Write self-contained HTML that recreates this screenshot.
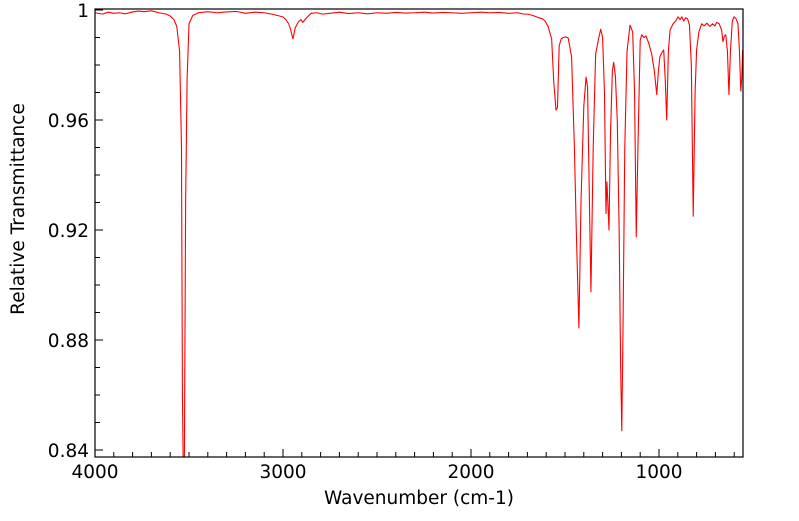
<!DOCTYPE html>
<html><head><meta charset="utf-8"><style>
html,body{margin:0;padding:0;background:#fff;}
svg text{font-family:"DejaVu Sans","Liberation Sans",sans-serif;font-size:18.5px;fill:#000;}
</style></head><body>
<svg id="chart" width="799" height="516" viewBox="0 0 799 516" xmlns="http://www.w3.org/2000/svg">
<defs><clipPath id="clip"><rect x="95" y="9" width="648" height="448"/></clipPath></defs>
<rect x="95" y="9" width="648" height="448" fill="#fff"/>
<g id="ticks"></g>
<g id="series" clip-path="url(#clip)"></g>
<rect x="95" y="9" width="648" height="448" fill="none" stroke="#000" stroke-width="1.2"/>
<text x="419" y="504" text-anchor="middle">Wavenumber (cm-1)</text>
<text transform="translate(24,209) rotate(-90)" text-anchor="middle">Relative Transmittance</text>
</svg>
<script>
const wavenumbers = [4000,3960,3930,3900,3870,3840,3800,3770,3740,3700,3660,3620,3600,3580,3565,3550,3540,3535,3530,3525,3518,3510,3500,3480,3450,3400,3350,3300,3250,3200,3150,3100,3060,3030,3000,2985,2970,2960,2947,2935,2920,2905,2895,2883,2870,2850,2820,2790,2750,2700,2650,2600,2550,2500,2450,2400,2350,2300,2250,2200,2150,2100,2050,2000,1950,1900,1850,1800,1750,1720,1700,1670,1640,1620,1606,1590,1571,1560,1553,1548,1540,1531,1520,1510,1495,1483,1465,1450,1440,1426,1415,1400,1388,1380,1370,1362,1350,1337,1320,1310,1300,1290,1282,1277,1272,1266,1258,1248,1241,1232,1222,1212,1204,1198,1192,1182,1170,1154,1140,1130,1121,1112,1100,1092,1080,1069,1055,1039,1025,1012,1003,995,985,975,967,959,950,941,925,910,899,888,878,868,858,848,838,828,818,808,800,788,773,760,745,729,715,703,693,680,667,660,652,645,636,628,620,610,601,590,580,572,565,560,555];
const transmittance = [0.9990,0.9985,0.9992,0.9988,0.9990,0.9986,0.9993,0.9996,0.9994,0.9997,0.9990,0.9985,0.9978,0.9965,0.9940,0.9850,0.9500,0.8600,0.8300,0.8300,0.9300,0.9750,0.9950,0.9980,0.9990,0.9994,0.9990,0.9993,0.9995,0.9988,0.9992,0.9990,0.9985,0.9980,0.9975,0.9965,0.9950,0.9930,0.9895,0.9935,0.9955,0.9965,0.9955,0.9965,0.9975,0.9988,0.9990,0.9985,0.9988,0.9992,0.9987,0.9990,0.9986,0.9990,0.9988,0.9991,0.9989,0.9990,0.9992,0.9989,0.9991,0.9990,0.9988,0.9990,0.9992,0.9990,0.9991,0.9988,0.9990,0.9985,0.9985,0.9980,0.9972,0.9968,0.9960,0.9940,0.9895,0.9740,0.9680,0.9636,0.9645,0.9870,0.9895,0.9900,0.9902,0.9898,0.9830,0.9500,0.9200,0.8844,0.9300,0.9650,0.9756,0.9720,0.9300,0.8975,0.9500,0.9840,0.9900,0.9930,0.9900,0.9700,0.9260,0.9375,0.9300,0.9200,0.9550,0.9780,0.9810,0.9760,0.9600,0.9200,0.8700,0.8470,0.8800,0.9500,0.9850,0.9945,0.9920,0.9700,0.9175,0.9500,0.9890,0.9910,0.9900,0.9905,0.9880,0.9840,0.9780,0.9693,0.9780,0.9830,0.9845,0.9855,0.9750,0.9600,0.9850,0.9927,0.9950,0.9962,0.9975,0.9965,0.9975,0.9960,0.9972,0.9968,0.9945,0.9800,0.9250,0.9700,0.9855,0.9920,0.9950,0.9942,0.9952,0.9940,0.9950,0.9942,0.9955,0.9950,0.9927,0.9885,0.9905,0.9910,0.9850,0.9693,0.9850,0.9960,0.9975,0.9968,0.9950,0.9850,0.9705,0.9750,0.9855];
const xTicks = [4000,3000,2000,1000];
const yTicks = [1,0.96,0.92,0.88,0.84];

const X0=95, X1=742.7, Y0=10, PX=0.188, PY=110/0.04;
function xs(w){return X0+(4000-w)*PX;}
function ys(v){return Y0+(1-v)*PY;}
const NS="http://www.w3.org/2000/svg";
const svg=document.getElementById('chart');
const tg=document.getElementById('ticks');
function line(x1,y1,x2,y2,name){
  const l=document.createElementNS(NS,'line');
  l.setAttribute('x1',x1);l.setAttribute('y1',y1);l.setAttribute('x2',x2);l.setAttribute('y2',y2);
  l.setAttribute('stroke','#000');l.setAttribute('stroke-width','1');
  
  
  tg.appendChild(l);
}
function label(x,y,t,anchor,name){
  const e=document.createElementNS(NS,'text');
  e.setAttribute('x',x);e.setAttribute('y',y);e.setAttribute('text-anchor',anchor);
  e.textContent=t;
  
  
  svg.appendChild(e);
}
for(let w=4000; w>=555; w-=100){
  const x=xs(w), major=(w%1000===0);
  line(x,457,x,457-(major?8:5),'x-tick');
}
xTicks.forEach(w=>label(xs(w),478,String(w),'middle','x-tick-label'));
for(let i=0;i<=16;i++){
  const v=1-i*0.01, y=ys(v), major=(i%4===0);
  line(95,y,95+(major?8:5),y,'y-tick');
}
yTicks.forEach(v=>label(89,ys(v)+7,String(v),'end','y-tick-label'));
const sg=document.getElementById('series');
const p=document.createElementNS(NS,'polyline');
p.setAttribute('points',wavenumbers.map((w,i)=>xs(w).toFixed(2)+','+ys(transmittance[i]).toFixed(2)).join(' '));
p.setAttribute('fill','none');p.setAttribute('stroke','#ff0000');p.setAttribute('stroke-width','1.1');p.setAttribute('stroke-linejoin','round');


sg.appendChild(p);
</script>
</body></html>
